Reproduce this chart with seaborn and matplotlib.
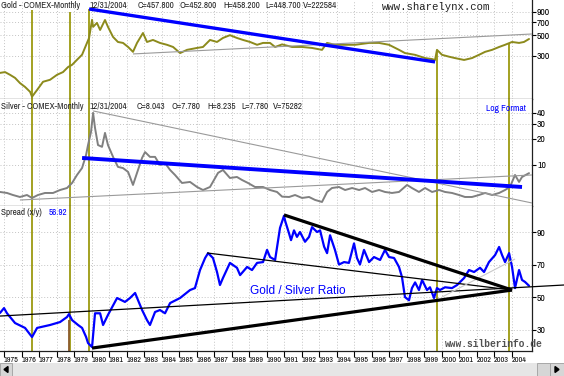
import numpy as np
import matplotlib
matplotlib.use('Agg')
import matplotlib.pyplot as plt
from matplotlib import font_manager
from matplotlib.font_manager import FontProperties
from matplotlib.textpath import TextPath
from matplotlib.patches import Rectangle, Polygon
from matplotlib.ticker import NullLocator
import seaborn as sns

# ---- values (decimal years) ----
gold_years = [1974.77, 1975.06, 1975.34, 1975.63, 1975.91, 1976.20, 1976.49, 1976.60, 1976.89,
              1977.23, 1977.63, 1978.03, 1978.37, 1978.66, 1978.89, 1979.17, 1979.46, 1979.74,
              1979.86, 1980.03, 1980.09, 1980.31, 1980.49, 1980.77, 1980.94, 1981.23, 1981.51,
              1981.80, 1982.09, 1982.37, 1982.60, 1982.94, 1983.17, 1983.51, 1983.91, 1984.31,
              1984.66, 1985.06, 1985.46, 1986.03, 1986.37, 1986.77, 1987.17, 1987.51, 1987.91,
              1988.31, 1988.66, 1989.06, 1989.46, 1989.80, 1990.20, 1990.49, 1990.89, 1991.46,
              1992.03, 1992.60, 1993.17, 1993.46, 1993.91, 1994.49, 1995.06, 1995.86, 1996.43,
              1997.00, 1997.57, 1997.91, 1998.49, 1999.06, 1999.46, 1999.63, 1999.74, 2000.03,
              2000.43, 2000.77, 2001.29, 2001.74, 2002.14, 2002.49, 2002.89, 2003.29, 2003.63,
              2004.03, 2004.43, 2004.71, 2005.00]
gold_close = [196, 200, 187, 173, 152, 138, 122, 108, 128,
              157, 165, 187, 200, 227, 240, 272, 309, 415,
              470, 740, 620, 685, 574, 737, 620, 482, 425,
              415, 375, 332, 415, 532, 425, 447, 415, 396,
              375, 322, 349, 366, 375, 447, 425, 470, 504,
              470, 447, 425, 396, 415, 415, 375, 400, 375,
              375, 366, 349, 415, 396, 396, 396, 415, 415,
              396, 349, 322, 308, 284, 277, 271, 349, 308,
              294, 284, 271, 284, 308, 332, 349, 375, 396,
              425, 415, 425, 458]

silver_years = [1974.77, 1975.17, 1975.51, 1975.91, 1976.31, 1976.60, 1976.94, 1977.34, 1977.80,
                1978.20, 1978.60, 1978.89, 1979.17, 1979.46, 1979.69, 1979.80, 1979.97, 1980.09,
                1980.20, 1980.37, 1980.60, 1980.77, 1980.94, 1981.23, 1981.51, 1981.80, 1982.09,
                1982.37, 1982.60, 1982.89, 1983.06, 1983.34, 1983.63, 1983.91, 1984.20, 1984.49,
                1984.77, 1985.17, 1985.63, 1986.03, 1986.37, 1986.77, 1987.23, 1987.51, 1987.91,
                1988.31, 1988.60, 1988.94, 1989.34, 1989.80, 1990.20, 1990.60, 1990.89, 1991.29,
                1991.63, 1992.03, 1992.43, 1992.77, 1993.17, 1993.46, 1993.74, 1994.14, 1994.49,
                1994.89, 1995.29, 1995.63, 1996.03, 1996.43, 1996.77, 1997.17, 1997.57, 1998.03,
                1998.31, 1998.71, 1999.06, 1999.46, 1999.86, 2000.20, 2000.60, 2001.00, 2001.34,
                2001.74, 2002.14, 2002.49, 2002.89, 2003.29, 2003.63, 2003.91, 2004.20, 2004.43,
                2004.60, 2005.00]
silver_close = [4.87, 4.74, 4.49, 4.26, 4.49, 4.15, 4.49, 4.74, 4.74,
                5.13, 5.41, 6.19, 7.66, 9.23, 13.1, 17.0, 24.1, 40.0,
                26.8, 17.0, 16.2, 23.5, 17.0, 12.4, 9.5, 9.2, 8.3,
                5.87, 8.1, 12.1, 14.1, 12.4, 12.4, 10.0, 10.5, 8.75,
                7.66, 6.19, 6.36, 5.56, 5.13, 5.56, 8.1, 8.75, 7.07,
                7.26, 6.7, 6.19, 5.56, 5.56, 5.13, 4.87, 4.3, 4.26,
                4.49, 4.15, 4.26, 3.94, 3.73, 4.87, 5.41, 5.56, 5.13,
                5.41, 5.13, 5.41, 4.87, 5.13, 4.87, 4.74, 4.87, 5.87,
                5.41, 4.87, 5.41, 4.87, 5.13, 4.87, 4.74, 4.49, 4.26,
                4.26, 4.49, 4.74, 4.49, 4.74, 5.13, 5.56, 7.66, 6.36,
                7.26, 8.04]

ratio_years = [1974.77, 1975.00, 1975.17, 1975.63, 1976.20, 1976.60, 1976.89, 1977.63, 1978.20,
               1978.60, 1978.71, 1978.89, 1979.23, 1979.46, 1979.69, 1979.80, 1980.03, 1980.20,
               1980.49, 1980.66, 1980.94, 1981.46, 1981.91, 1982.20, 1982.49, 1982.66, 1982.89,
               1983.17, 1983.34, 1983.63, 1983.91, 1984.20, 1984.49, 1985.06, 1985.63, 1985.91,
               1986.20, 1986.49, 1986.66, 1986.94, 1987.17, 1987.34, 1987.51, 1987.91, 1988.31,
               1988.49, 1988.89, 1989.17, 1989.46, 1989.80, 1990.03, 1990.20, 1990.49, 1990.77,
               1991.00, 1991.06, 1991.29, 1991.40, 1991.57, 1991.74, 1991.91, 1992.20, 1992.43,
               1992.60, 1992.89, 1993.06, 1993.29, 1993.46, 1993.63, 1993.91, 1994.14, 1994.43,
               1994.71, 1995.00, 1995.17, 1995.34, 1995.57, 1995.86, 1996.14, 1996.49, 1996.77,
               1997.00, 1997.29, 1997.57, 1997.74, 1997.91, 1998.14, 1998.31, 1998.49, 1998.71,
               1998.89, 1999.17, 1999.34, 1999.57, 1999.74, 1999.91, 2000.20, 2000.60, 2000.89,
               2001.29, 2001.57, 2001.86, 2002.20, 2002.43, 2002.71, 2003.06, 2003.29, 2003.46,
               2003.63, 2003.86, 2004.03, 2004.20, 2004.43, 2004.60, 2004.77, 2005.00]
ratio_values = [40.2, 43.2, 40.0, 34.0, 31.0, 25.4, 31.0, 32.8, 34.6,
                37.7, 39.5, 35.8, 32.8, 31.0, 25.4, 21.7, 19.2, 40.0,
                40.0, 32.8, 39.0, 49.4, 47.0, 49.4, 52.5, 48.0, 42.0,
                35.8, 32.8, 40.8, 42.0, 40.0, 46.3, 49.4, 54.3, 55.5,
                66.6, 74.0, 77.0, 74.0, 65.4, 57.4, 61.7, 71.0, 68.0,
                63.5, 68.5, 66.6, 71.0, 71.5, 79.0, 74.6, 72.8, 92.5,
                100.0, 97.0, 89.0, 85.0, 91.0, 87.0, 90.0, 84.0, 87.0,
                93.0, 90.0, 91.0, 81.0, 77.0, 88.0, 79.0, 70.0, 71.5,
                71.0, 83.0, 74.0, 70.0, 79.0, 71.5, 74.6, 72.8, 79.0,
                74.6, 74.0, 68.5, 62.3, 50.0, 48.0, 55.5, 59.0, 54.3,
                60.5, 54.3, 56.0, 49.4, 55.5, 54.3, 56.0, 55.5, 57.4,
                61.7, 66.6, 65.4, 68.0, 65.4, 71.5, 75.8, 80.8, 75.8,
                71.5, 77.0, 68.5, 55.5, 66.6, 60.5, 59.3, 56.92]

# event markers (dates) and where they start in the gold panel
marker_years = [1976.6, 1978.77, 1979.86, 1999.74, 2003.86]
marker_gold_tops = [946, 900, 970, 349, 415]

# trendlines: (start year, start value, end year, end value)
gold_trend_blue = (1979.86, 970, 1999.63, 258)
gold_trend_grey = (1982.37, 315, 2005.17, 519)
silver_trend_blue = (1979.46, 12.05, 2004.60, 5.56)
silver_trend_top = (1980.09, 42.2, 2005.17, 3.63)
silver_trend_low = (1975.91, 3.93, 2005.17, 7.66)
ratio_trend_long = (1974.77, 38.3, 2007.0, 57.4)
ratio_trend_low = (1980.03, 18.6, 2004.03, 54.3)
ratio_trend_high = (1991.0, 100.5, 2004.03, 54.3)
ratio_trend_mid = (1986.6, 77.1, 2004.03, 54.3)
ratio_trend_grey = (2000.03, 50.0, 2004.2, 73.4)

years = list(range(1975, 2005))
gold_ticks = [300, 500, 700, 900]
silver_ticks = [10, 20, 30, 40]
ratio_ticks = [30, 50, 70, 90]

gold_header = ['12/31/2004', 'C=457.800', 'O=452.800', 'H=458.200', 'L=448.700', 'V=222584']
silver_header = ['12/31/2004', 'C=8.043', 'O=7.780', 'H=8.235', 'L=7.780', 'V=75282']

# ---- styling ----
sns.set_theme(style='white')
installed = {f.name for f in font_manager.fontManager.ttflist}
narrow = 'Liberation Sans'
for cand in ['Liberation Sans Narrow', 'Arial Narrow', 'Archivo Narrow', 'Roboto Condensed']:
    if cand in installed:
        narrow = cand
        break
plt.rcParams['font.family'] = [narrow, 'DejaVu Sans']


def text_px(s, size, family, weight='normal'):
    fp = FontProperties(family=family, weight=weight, size=size)
    return TextPath((0, 0), s, prop=fp).get_extents().width * 100 / 72


def fit_size(s, width_px, family, weight='normal', cap=9.0):
    # font size (pt) that makes s about width_px wide at dpi 100
    return min(cap, 10 * width_px / text_px(s, 10, family, weight))


head_fs = min(fit_size('12/31/2004', 37, narrow, cap=7.0),
              fit_size('Gold - COMEX-Monthly', 84, narrow, cap=7.0))
year_fs = fit_size('1988', 14, narrow, cap=6.5)
tick_fs = fit_size('900', 12.5, narrow, cap=7.0)
logf_fs = fit_size('Log Format', 39, narrow, cap=7.0)
ratio_fs = fit_size('Gold / Silver Ratio', 95, 'Liberation Sans', cap=9.0)
mono = ['Liberation Mono', 'DejaVu Sans Mono']
site_fs = fit_size('www.sharelynx.com', 108, mono[0], cap=9.0)
site2_fs = fit_size('www.silberinfo.de', 98, mono[0], weight='bold', cap=9.0)

OLIVE = '#8c8a1c'
VLINE = '#9c9a10'
BLUE = '#0000ff'
GRID = '#c4c4c4'

W, H = 564, 376
fig = plt.figure(figsize=(W / 100, H / 100), dpi=100)


def box(top, bottom):
    return [0, 1 - bottom / H, 532 / W, (bottom - top) / H]


ax_g = fig.add_axes(box(0, 99))
ax_s = fig.add_axes(box(99, 206), sharex=ax_g)
ax_r = fig.add_axes(box(206, 351), sharex=ax_g)


def trend(ax, seg, color, lw, clip=True):
    ax.plot([seg[0], seg[2]], [seg[1], seg[3]], color=color, lw=lw,
            solid_capstyle='butt', clip_on=clip, zorder=4)


# gold
ax_g.set_yscale('log')
ax_g.set_ylim(102, 1215)
sns.lineplot(x=gold_years, y=gold_close, ax=ax_g, color=OLIVE, linewidth=1.4, zorder=3)
ax_g.vlines(marker_years, 102, marker_gold_tops, color=VLINE, lw=1.3, zorder=2)
trend(ax_g, gold_trend_grey, '#9a9a9a', 0.8)
trend(ax_g, gold_trend_blue, BLUE, 2.4)

# silver
ax_s.set_yscale('log')
ax_s.set_ylim(3.35, 58)
sns.lineplot(x=silver_years, y=silver_close, ax=ax_s, color='#808080', linewidth=1.4, zorder=3)
for yr in marker_years:
    ax_s.axvline(yr, color=VLINE, lw=1.3, zorder=2)
trend(ax_s, silver_trend_top, '#9a9a9a', 0.8)
trend(ax_s, silver_trend_low, '#9a9a9a', 0.8)
trend(ax_s, silver_trend_blue, BLUE, 2.8)

# gold / silver ratio
ax_r.set_ylim(16.8, 106)
for yr in marker_years:
    ax_r.axvline(yr, color=VLINE, lw=1.3, zorder=2)
ax_r.vlines(1978.71, 16.8, 36, color='#8b5a2b', lw=1.3, zorder=2)
sns.lineplot(x=ratio_years, y=ratio_values, ax=ax_r, color=BLUE, linewidth=1.6, zorder=3)
trend(ax_r, ratio_trend_long, 'black', 0.9, clip=False)
trend(ax_r, ratio_trend_mid, 'black', 0.9)
trend(ax_r, ratio_trend_grey, '#c8c8c8', 0.8)
trend(ax_r, ratio_trend_low, 'black', 2.3)
trend(ax_r, ratio_trend_high, 'black', 2.3)
ax_r.text(1989.06, 53.7, 'Gold / Silver Ratio', color=BLUE, fontsize=ratio_fs,
          family=['Liberation Sans', 'DejaVu Sans'], va='center', ha='left', zorder=5)

ax_r.set_xlim(1974.77, 2005.17)

for ax, ticks in [(ax_g, gold_ticks), (ax_s, silver_ticks), (ax_r, ratio_ticks)]:
    ax.yaxis.set_minor_locator(NullLocator())
    ax.set_yticks(ticks)
    ax.set_yticklabels([str(t) for t in ticks])
    ax.yaxis.tick_right()
    ax.tick_params(axis='y', which='both', direction='out', length=3, width=0.8,
                   pad=0.6, labelsize=tick_fs, colors='black', right=True, left=False)
    ax.set_xticks(years)
    ax.grid(True, which='major', color=GRID, linestyle=(0, (1, 2)), linewidth=0.7)
    ax.set_xlabel('')
    ax.set_ylabel('')
    for side in ['left', 'top']:
        ax.spines[side].set_visible(False)
    for side in ['right', 'bottom']:
        ax.spines[side].set_color('#202020')
        ax.spines[side].set_linewidth(0.9)

for ax in (ax_g, ax_s):
    ax.tick_params(axis='x', bottom=False, labelbottom=False)

ax_r.set_xticklabels([str(y) for y in years])
ax_r.tick_params(axis='x', direction='out', length=4, width=0.8, pad=0.6,
                 labelsize=year_fs, colors='black', bottom=True)
for lbl in ax_r.get_xticklabels():
    lbl.set_ha('left')


# ---- header texts (figure pixel positions) ----
def ftext(x, y, s, **kw):
    fig.text(x / W, 1 - y / H, s, va='top', ha='left', **kw)


def header_row(y, starts, parts):
    # keep the reference start positions, nudging right only to avoid touching
    end = 0
    for x, s in zip(starts, parts):
        x = max(x, end + 3)
        ftext(x, y, s, fontsize=head_fs)
        end = x + text_px(s, head_fs, narrow)


ftext(1, 1, 'Gold - COMEX-Monthly', fontsize=head_fs)
header_row(1, [90, 138, 180, 223, 265, 299], gold_header)
ftext(382, 1.5, 'www.sharelynx.com', fontsize=site_fs, family=mono, color='#202020')

ftext(1, 102, 'Silver - COMEX-Monthly', fontsize=head_fs)
header_row(102, [90, 137, 172, 207, 241, 273], silver_header)
ftext(486, 104, 'Log Format', fontsize=logf_fs, color=BLUE)

ftext(1, 208, 'Spread (x/y)', fontsize=head_fs)
ftext(49, 208, '56.92', fontsize=head_fs, color=BLUE)
ftext(445, 339, 'www.silberinfo.de', fontsize=site2_fs, weight='bold', family=mono, color='#505050')


# ---- scrollbar strip ----
def frect(x, y, w, h, **kw):
    fig.add_artist(Rectangle((x / W, 1 - (y + h) / H), w / W, h / H,
                             transform=fig.transFigure, **kw))


frect(0, 363, 564, 13, facecolor='#e6e6e6', edgecolor='none')
frect(0, 363, 12, 13, facecolor='#d6d6d6', edgecolor='#a0a0a0', lw=0.6)
frect(537, 363, 13, 13, facecolor='#d6d6d6', edgecolor='#a0a0a0', lw=0.6)
frect(550, 363, 14, 13, facecolor='#d6d6d6', edgecolor='#a0a0a0', lw=0.6)
fig.add_artist(Polygon([(4 / W, 1 - 369.5 / H), (8 / W, 1 - 366.5 / H), (8 / W, 1 - 372.5 / H)],
                       closed=True, transform=fig.transFigure, color='black'))
fig.add_artist(Polygon([(559 / W, 1 - 369.5 / H), (555 / W, 1 - 366.5 / H), (555 / W, 1 - 372.5 / H)],
                       closed=True, transform=fig.transFigure, color='black'))

fig.savefig('out.png', dpi=100)
plt.close(fig)
